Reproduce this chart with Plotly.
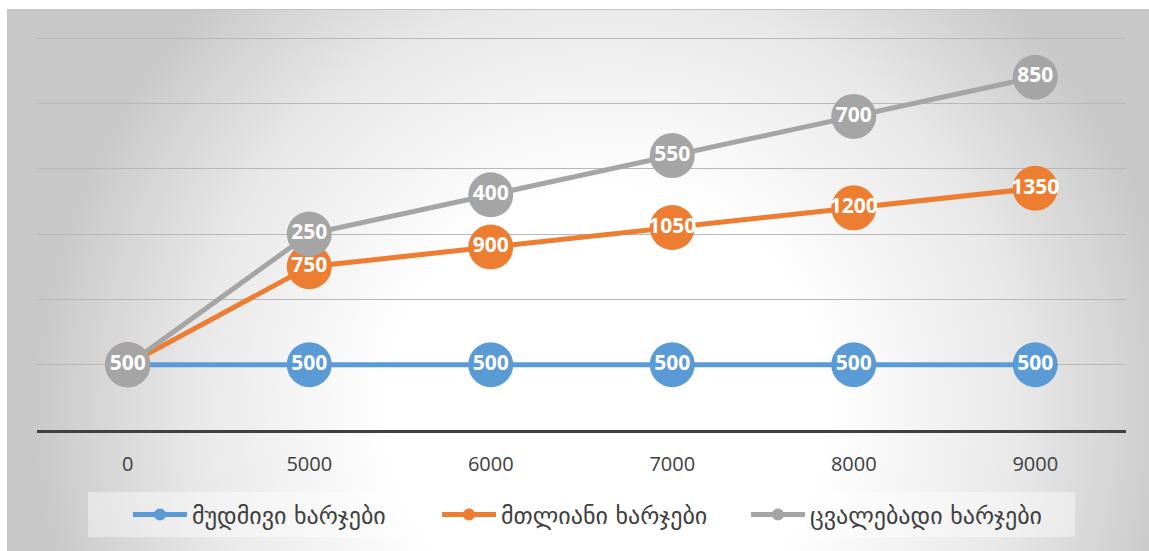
import base64
import plotly.graph_objects as go

# Output levels (x axis categories)
categories = ["0", "5000", "6000", "7000", "8000", "9000"]

# Cost series
fixed_costs = [500, 500, 500, 500, 500, 500]
total_costs = [0, 750, 900, 1050, 1200, 1350]
variable_costs = [0, 250, 400, 550, 700, 850]

series_names = ["მუდმივი ხარჯები", "მთლიანი ხარჯები", "ცვალებადი ხარჯები"]
series_values = [fixed_costs, total_costs, variable_costs]
series_colors = ["#5B9BD5", "#ED7D31", "#A5A5A5"]

W, H = 1149, 551
M_L, M_R, M_T, M_B = 37, 23, 34, 121
PW, PH = W - M_L - M_R, H - M_T - M_B
Y_TOP = 3000 * PH / (PH - 4)  # a little headroom so the 3000 gridline is drawn

# Soft radial background of the chart area
area_x0, area_y0 = 7, 9
area_w, area_h = W - area_x0, H - area_y0
svg = f"""<svg xmlns='http://www.w3.org/2000/svg' width='{area_w}' height='{area_h}'>
<defs><radialGradient id='g' gradientUnits='userSpaceOnUse' cx='600' cy='400' r='575'>
<stop offset='0' stop-color='#ffffff'/><stop offset='0.38' stop-color='#ffffff'/>
<stop offset='0.72' stop-color='#e8e8e8'/><stop offset='1' stop-color='#c8c8c8'/></radialGradient></defs>
<rect x='0' y='0' width='{area_w}' height='{area_h}' fill='url(#g)'/>
<rect x='0.5' y='0.5' width='{area_w + 5}' height='{area_h + 5}' fill='none' stroke='#c4c4c4' stroke-width='1'/>
</svg>"""
bg_src = "data:image/svg+xml;base64," + base64.b64encode(svg.encode()).decode()


def px_to_paper_x(px):
    return (px - M_L) / PW


def px_to_paper_y(py):
    return 1 - (py - M_T) / PH


fig = go.Figure()

# Stacked lines with markers
for name, vals, color in zip(series_names, series_values, series_colors):
    fig.add_trace(go.Scatter(
        x=categories, y=vals, name=name, stackgroup="cost", fill="none",
        mode="lines+markers",
        line=dict(color=color, width=5),
        marker=dict(color=color, size=45, line=dict(width=0)),
        hoverinfo="skip", cliponaxis=False,
    ))

# Value labels, stacked the same way so they sit on their markers
for name, vals in zip(series_names, series_values):
    fig.add_trace(go.Scatter(
        x=categories, y=vals, stackgroup="labels", fill="none",
        mode="text", text=[str(v) if v else "" for v in vals],
        textposition="middle center",
        textfont=dict(family="Open Sans", size=21, color="white", weight="bold"),
        showlegend=False, hoverinfo="skip", cliponaxis=False,
    ))

fig.update_layout(
    width=W, height=H,
    margin=dict(l=M_L, r=M_R, t=M_T, b=M_B, pad=0),
    paper_bgcolor="white", plot_bgcolor="rgba(0,0,0,0)",
    showlegend=True,
    legend=dict(
        orientation="h", xanchor="left", yanchor="middle",
        x=px_to_paper_x(128), y=px_to_paper_y(515),
        bgcolor="rgba(0,0,0,0)", itemwidth=54, itemsizing="constant",
        entrywidth=240, entrywidthmode="pixels",
        font=dict(family="DejaVu Sans", size=24, color="#404040"),
    ),
    images=[dict(
        source=bg_src, xref="paper", yref="paper",
        x=px_to_paper_x(area_x0), y=px_to_paper_y(area_y0),
        sizex=area_w / PW, sizey=area_h / PH,
        xanchor="left", yanchor="top", sizing="stretch", layer="below",
    )],
    shapes=[dict(
        type="rect", xref="paper", yref="paper", layer="below",
        x0=px_to_paper_x(88), x1=px_to_paper_x(1075),
        y0=px_to_paper_y(537), y1=px_to_paper_y(492),
        fillcolor="rgba(255,255,255,0.42)", line=dict(width=0),
    )],
    xaxis=dict(
        type="category", range=[-0.5, 5.5], showgrid=False,
        showline=True, linecolor="#404040", linewidth=3,
        ticks="", ticklabelstandoff=14,
        tickfont=dict(family="Open Sans", size=20, color="#404040"),
    ),
    yaxis=dict(
        range=[0, Y_TOP], dtick=500, showticklabels=False,
        showgrid=True, gridcolor="#b8b8b8", gridwidth=1.2,
        zeroline=False,
    ),
)

fig.write_html("out.html")
